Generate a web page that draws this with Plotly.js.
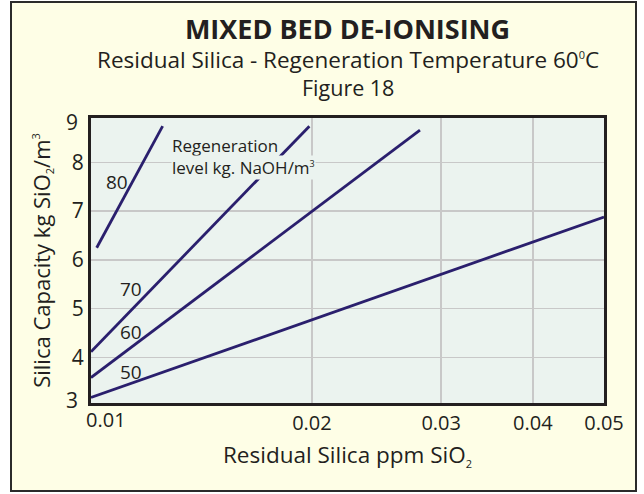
<!DOCTYPE html>
<html>
<head>
<meta charset="utf-8">
<script src="https://cdn.plot.ly/plotly-3.0.1.min.js"></script>
<style>
  html, body { margin: 0; padding: 0; background: #ffffff; }
  #frame { position: absolute; left: 10px; top: 1px; width: 627px; height: 491px;
           box-sizing: border-box; border: 2px solid #2b2b2b; background: #fefee6; }
  #chart { position: absolute; left: 0; top: 0; width: 644px; height: 494px; }
</style>
</head>
<body>
<div id="frame"></div>
<div id="chart"></div>
<script>
// ---- data ----
const seriesNames = ["80", "70", "60", "50"];
const x80 = [0.01018, 0.01252];
const y80 = [6.25, 8.74];
const x70 = [0.01, 0.01984];
const y70 = [4.12, 8.74];
const x60 = [0.01, 0.02807];
const y60 = [3.59, 8.66];
const x50 = [0.01, 0.05];
const y50 = [3.18, 6.88];
const xTickVals = [0.02, 0.03, 0.04, 0.05];
const xTickText = ["0.02", "0.03", "0.04", "0.05"];
const yTickVals = [4, 5, 6, 7, 8];
const yTickText = ["4", "5", "6", "7", "8"];

const FONT = "'Open Sans', Lato, sans-serif";
const INK = "#231f20";
const LINE = "#2a1f6d";

function line(x, y, name) {
  return { x: x, y: y, name: name, type: "scatter", mode: "lines",
           line: { color: LINE, width: 2.8 }, hoverinfo: "skip", showlegend: false };
}
const traces = [
  line(x80, y80, seriesNames[0]),
  line(x70, y70, seriesNames[1]),
  line(x60, y60, seriesNames[2]),
  line(x50, y50, seriesNames[3])
];

// plot area in px: x 91..604, y 118..403
const L = 91, R = 604, T = 118, B = 403;
const px = v => (v - L) / (R - L);
const py = v => (B - v) / (B - T);

function note(text, xpx, ypx, size, anchor, extra) {
  return Object.assign({ text: text, xref: "paper", yref: "paper", x: px(xpx), y: py(ypx),
    xanchor: anchor || "center", yanchor: "middle", showarrow: false,
    font: { family: FONT, size: size, color: INK } }, extra || {});
}

const annotations = [
  note("Residual Silica - Regeneration Temperature 60<sup><span style=\"font-size:11px\">0</span></sup>C", 348, 59, 22.5),
  note("Figure 18", 348, 87.5, 21.5),
  note("80", 117, 182, 19),
  note("70", 131, 289, 19),
  note("60", 131, 332, 19),
  note("50", 131, 372, 19),
  note("Regeneration", 171, 145, 17, "left", { bgcolor: "#ebf3ef", borderpad: 0 }),
  note("level kg. NaOH/m<sup><span style=\"font-size:9px\">3</span></sup>", 171, 167, 17, "left", { bgcolor: "#ebf3ef", borderpad: 0 }),
  note("9", 80, 122, 21, "right"),
  note("3", 80, 400, 21, "right"),
  note("0.01", 106, 419, 20)
];

const layout = {
  width: 644, height: 494,
  margin: { l: L, r: 644 - R, t: T, b: 494 - B, pad: 0 },
  paper_bgcolor: "rgba(0,0,0,0)",
  plot_bgcolor: "#ebf3ef",
  title: { text: "<b>MIXED BED DE-IONISING</b>", xref: "paper", x: 0.5, xanchor: "center",
           yref: "container", y: 1 - 30 / 494, yanchor: "middle",
           font: { family: FONT, size: 27, color: INK } },
  xaxis: {
    type: "log", range: [Math.log10(0.01), Math.log10(0.05)],
    tickvals: xTickVals, ticktext: xTickText, ticks: "",
    showgrid: true, gridcolor: "#c8c8c8", gridwidth: 1.5,
    showline: true, linecolor: INK, linewidth: 3, mirror: true, zeroline: false,
    tickfont: { family: FONT, size: 20, color: INK },
    title: { text: "Residual Silica ppm SiO<sub><span style=\"font-size:11px\">2</span></sub>", standoff: 13,
             font: { family: FONT, size: 22.5, color: INK } }
  },
  yaxis: {
    range: [3.068, 8.908],
    tickvals: yTickVals, ticktext: yTickText, ticks: "",
    showgrid: true, gridcolor: "#c8c8c8", gridwidth: 1.5,
    showline: true, linecolor: INK, linewidth: 3, mirror: true, zeroline: false,
    tickfont: { family: FONT, size: 21, color: INK },
    title: { text: "Silica Capacity kg SiO<sub><span style=\"font-size:11px\">2</span></sub>/m<sup><span style=\"font-size:11px\">3</span></sup>", standoff: 16,
             font: { family: FONT, size: 22, color: INK } }
  },
  annotations: annotations,
  showlegend: false
};

Plotly.newPlot("chart", traces, layout, { displayModeBar: false, staticPlot: true });
</script>
</body>
</html>
